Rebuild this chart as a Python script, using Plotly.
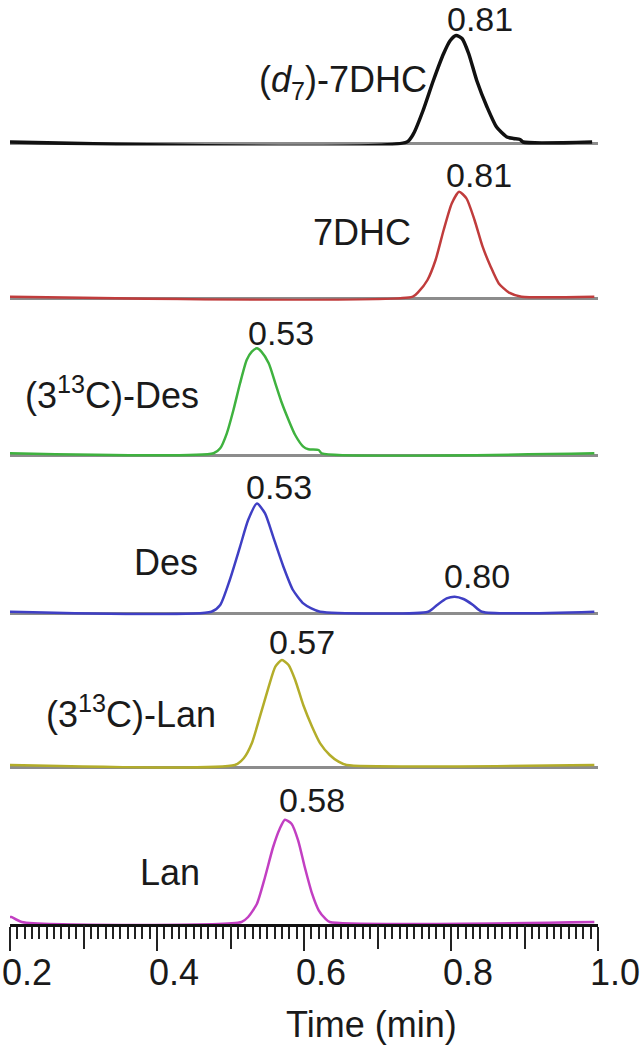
import plotly.graph_objects as go

# chromatogram traces, retention time (min) vs. signal (relative, px-scaled)
t_d7dhc = [0.2, 0.740, 0.749, 0.762, 0.776, 0.790, 0.799, 0.807, 0.815, 0.824, 0.835, 0.849, 0.862, 0.876, 0.885, 0.894, 0.898, 0.992]
i_d7dhc = [1.5, 1.5, 9.8, 33, 63, 90, 103, 108, 105, 90, 63, 36.5, 16.5, 6.5, 5, 4, 1.5, 1.5]

t_7dhc = [0.2, 0.748, 0.756, 0.768, 0.779, 0.790, 0.801, 0.811, 0.821, 0.832, 0.843, 0.854, 0.865, 0.879, 0.896, 0.995]
i_7dhc = [2, 2, 7, 18.7, 38.7, 68.7, 95.3, 107, 100.3, 78.7, 52, 32, 15.3, 6, 2, 2]

t_13des = [0.2, 0.477, 0.486, 0.495, 0.504, 0.513, 0.522, 0.529, 0.536, 0.542, 0.552, 0.561, 0.570, 0.579, 0.588, 0.599, 0.606, 0.620, 0.624, 0.995]
i_13des = [2, 2, 7, 22, 45.3, 72, 95.3, 103.7, 107, 103.7, 92, 72, 52, 35.3, 20.3, 8.7, 6, 5.3, 2, 2]

t_des = [0.2, 0.474, 0.486, 0.499, 0.513, 0.524, 0.536, 0.547, 0.558, 0.572, 0.585, 0.599, 0.610, 0.622,
         0.769, 0.781, 0.794, 0.805, 0.817, 0.830, 0.842, 0.995]
i_des = [2, 2, 8.7, 33.7, 67, 93.7, 110.3, 100.3, 77, 47, 23.7, 10.3, 5.3, 2,
         2, 8.7, 15.3, 17, 14.7, 8.7, 2, 2]

t_13lan = [0.2, 0.506, 0.518, 0.529, 0.540, 0.552, 0.561, 0.570, 0.579, 0.588, 0.599, 0.611, 0.622, 0.635, 0.647, 0.658, 0.995]
i_13lan = [2, 2, 8.7, 23.7, 50.3, 80.3, 100.3, 107, 102, 87, 62, 40.3, 23.7, 12, 5.3, 2, 2]

t_lan = [0.2, 0.202, 0.216, 0.515, 0.524, 0.536, 0.547, 0.558, 0.567, 0.574, 0.583, 0.592, 0.601, 0.611, 0.620, 0.629, 0.635, 0.995]
i_lan = [7, 7, 2, 2, 7, 20.3, 47, 77, 95.3, 104.3, 100.3, 83.7, 57, 30.3, 13.7, 5.3, 2, 2]

names = ["(<i>d</i><sub>7</sub>)-7DHC", "7DHC", "(3<sup>13</sup>C)-Des", "Des", "(3<sup>13</sup>C)-Lan", "Lan"]
colors = ["#111111", "#c03c3c", "#3fb23f", "#3f3fc4", "#b3ad2a", "#c23fc2"]
series = [(t_d7dhc, i_d7dhc), (t_7dhc, i_7dhc), (t_13des, i_13des),
          (t_des, i_des), (t_13lan, i_13lan), (t_lan, i_lan)]

# retention time labels
rt_labels = ["0.81", "0.81", "0.53", "0.53", "0.80", "0.57", "0.58"]

# x ticks: labelled every 0.2, unlabelled long ticks in between
labelled_ticks = [0.2, 0.4, 0.6, 0.8, 1.0]
unlabelled_ticks = [0.3, 0.5, 0.7, 0.9]

W, H = 644, 1050
PLOT_BOTTOM = 924           # px of x axis line
X0_PX, X1_PX = 10, 598      # px of 0.2 and 1.0
zero_px = [143.5, 298.7, 455.3, 613.7, 767, 924]

def py(px):
    return (PLOT_BOTTOM - px) / PLOT_BOTTOM

def tx(px):
    return 0.2 + (px - X0_PX) / (X1_PX - X0_PX) * 0.8

fig = go.Figure()
font = "Arial, Liberation Sans, sans-serif"

for k, ((t, v), c) in enumerate(zip(series, colors)):
    n = k + 1
    z = zero_px[k]
    bot = z if k == 5 else z + 2
    top = max(z - 150, 0)
    fig.add_trace(go.Scatter(x=t, y=v, mode="lines",
                             line=dict(color=c, width=3.5 if k == 0 else 2.5, shape="spline", smoothing=0.6),
                             xaxis="x", yaxis="y" if n == 1 else f"y{n}", showlegend=False,
                             hoverinfo="skip"))
    fig.layout[f"yaxis{'' if n == 1 else n}"] = dict(
        domain=[py(bot), py(top)], range=[-(bot - z), z - top],
        showgrid=False, showticklabels=False, ticks="", showline=False,
        zeroline=k != 5, zerolinecolor="#8c8c8c", zerolinewidth=3, anchor="x")

fig.update_layout(
    width=W, height=H,
    margin=dict(l=X0_PX, r=W - X1_PX, t=0, b=H - PLOT_BOTTOM),
    plot_bgcolor="white", paper_bgcolor="white",
    showlegend=False,
    xaxis=dict(range=[0.2, 1.0], anchor="y6",
               tickvals=labelled_ticks,
               ticks="outside", ticklen=24, tickwidth=2, tickcolor="#222",
               showline=True, linecolor="#111", linewidth=3,
               showgrid=False, zeroline=False,
               ticklabelshift=17, ticklabelstandoff=-9,
               tickformat=".1f",
               tickfont=dict(family=font, size=36, color="#1a1a1a"),
               minor=dict(dtick=0.01, ticks="outside", ticklen=12, tickwidth=1.5,
                          tickcolor="#222", showgrid=False)),
    xaxis2=dict(range=[0.2, 1.0], anchor="y6", overlaying="x", side="bottom",
                tickvals=unlabelled_ticks, showticklabels=False,
                ticks="outside", ticklen=24, tickwidth=2, tickcolor="#222",
                showline=False, showgrid=False, zeroline=False),
)
# empty carrier so the tick-only axis gets drawn
fig.add_trace(go.Scatter(x=[], y=[], xaxis="x2", yaxis="y6", showlegend=False, hoverinfo="skip"))

# compound names (right edge px, centre y px)
name_pos = [(429, 82), (413, 233), (201, 393), (200, 562), (218, 712), (202, 872)]
for text, (xr, yc) in zip(names, name_pos):
    fig.add_annotation(text=text, x=tx(xr), xref="x", y=py(yc), yref="paper",
                       xanchor="right", yanchor="middle", showarrow=False,
                       font=dict(family=font, size=36, color="#1a1a1a"))

rt_pos = [(480, 18.5), (479, 175), (281, 333), (279, 487), (477, 576), (302, 642), (312, 800)]
for text, (xc, yc) in zip(rt_labels, rt_pos):
    fig.add_annotation(text=text, x=tx(xc), xref="x", y=py(yc), yref="paper",
                       xanchor="center", yanchor="middle", showarrow=False,
                       font=dict(family=font, size=34, color="#1a1a1a"))

fig.add_annotation(text="Time (min)", x=tx(371), xref="x", y=py(1024), yref="paper",
                   xanchor="center", yanchor="middle", showarrow=False,
                   font=dict(family=font, size=36, color="#1a1a1a"))

# drop the default page margin so the figure sits at the window origin
fig.write_html("out.html", config={"displayModeBar": False},
               post_script="document.body.style.margin='0';")
